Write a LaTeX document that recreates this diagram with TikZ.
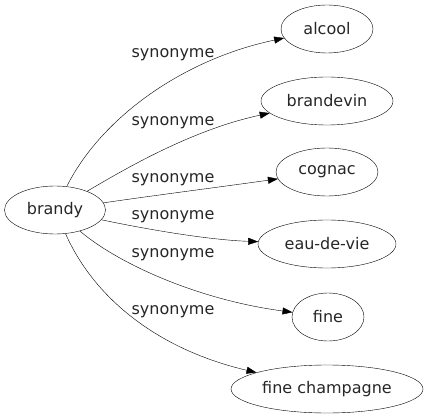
\documentclass[tikz,border=0pt]{standalone}
\usepackage{fontspec}
\setmainfont{DejaVu Sans}
\usetikzlibrary{shapes.geometric,arrows.meta}

\begin{document}
\begin{tikzpicture}[x=1pt, y=-1pt,
    every node/.style={font=\fontsize{16}{19}\selectfont, text=black!85},
    word/.style={ellipse, draw, minimum height=48pt, inner sep=0pt},
    lbl/.style={inner sep=1pt},
    edge/.style={-{Triangle[length=10pt,width=7pt]}}]
  \useasboundingbox (0,0) rectangle (430,419);
  \node[word, minimum width=101pt] (brandy)  at (55,210)  {brandy};
  \node[word, minimum width=92pt]  (alcool)  at (327,29)  {alcool};
  \node[word, minimum width=132pt] (brandevin) at (327,101) {brandevin};
  \node[word, minimum width=102pt] (cognac)  at (327,172) {cognac};
  \node[word, minimum width=138pt] (eaudevie) at (327,244) {eau-de-vie};
  \node[word, minimum width=72pt]  (fine)    at (328,317) {fine};
  \node[word, minimum width=192pt] (finechamp) at (327,389) {fine champagne};
  \node[lbl] (l1) at (173,55)  {synonyme};
  \node[lbl] (l2) at (173,123) {synonyme};
  \node[lbl] (l3) at (173,180) {synonyme};
  \node[lbl] (l4) at (173,217) {synonyme};
  \node[lbl] (l5) at (173,255) {synonyme};
  \node[lbl] (l6) at (173,312) {synonyme};
  \draw[edge] (brandy) .. controls (100,120) and (180,60) .. (alcool);
  \draw[edge] (brandy) .. controls (120,172) and (190,130) .. (brandevin);
  \draw[edge] (brandy) .. controls (150,196) and (220,187) .. (cognac);
  \draw[edge] (brandy) .. controls (150,230) and (210,240) .. (eaudevie);
  \draw[edge] (brandy) .. controls (120,265) and (200,300) .. (fine);
  \draw[edge] (brandy) .. controls (95,300) and (160,350) .. (finechamp);
\end{tikzpicture}
\end{document}
